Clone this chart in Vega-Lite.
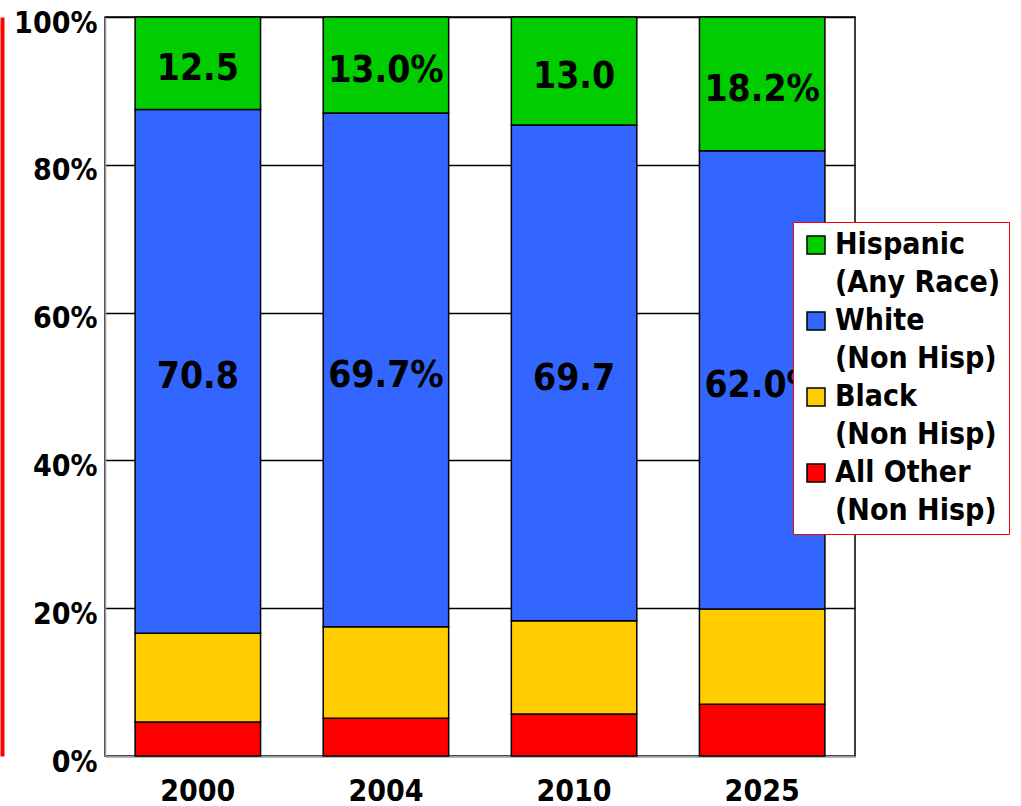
{
  "$schema": "https://vega.github.io/schema/vega-lite/v6.json",
  "autosize": {"type": "none"},
  "padding": {"left": 105, "top": 17, "right": 166, "bottom": 50},
  "width": 750,
  "height": 739,
  "background": "white",
  "config": {
    "view": {"stroke": "black", "strokeWidth": 1.5},
    "font": "DejaVu Sans Condensed",
    "style": {"guide-label": {"lineHeight": 38}}
  },
  "data": {
    "values": [
      {"year": "2000", "group": "All Other|(Non Hisp)", "order": 1, "value": 4.6, "label": ""},
      {"year": "2000", "group": "Black|(Non Hisp)", "order": 2, "value": 12.0, "label": ""},
      {"year": "2000", "group": "White|(Non Hisp)", "order": 3, "value": 70.9, "label": "70.8"},
      {"year": "2000", "group": "Hispanic|(Any Race)", "order": 4, "value": 12.5, "label": "12.5"},
      {"year": "2004", "group": "All Other|(Non Hisp)", "order": 1, "value": 5.1, "label": ""},
      {"year": "2004", "group": "Black|(Non Hisp)", "order": 2, "value": 12.4, "label": ""},
      {"year": "2004", "group": "White|(Non Hisp)", "order": 3, "value": 69.5, "label": "69.7%"},
      {"year": "2004", "group": "Hispanic|(Any Race)", "order": 4, "value": 13.0, "label": "13.0%"},
      {"year": "2010", "group": "All Other|(Non Hisp)", "order": 1, "value": 5.7, "label": ""},
      {"year": "2010", "group": "Black|(Non Hisp)", "order": 2, "value": 12.6, "label": ""},
      {"year": "2010", "group": "White|(Non Hisp)", "order": 3, "value": 67.1, "label": "69.7"},
      {"year": "2010", "group": "Hispanic|(Any Race)", "order": 4, "value": 14.6, "label": "13.0"},
      {"year": "2025", "group": "All Other|(Non Hisp)", "order": 1, "value": 7.0, "label": ""},
      {"year": "2025", "group": "Black|(Non Hisp)", "order": 2, "value": 12.9, "label": ""},
      {"year": "2025", "group": "White|(Non Hisp)", "order": 3, "value": 62.0, "label": "62.0%"},
      {"year": "2025", "group": "Hispanic|(Any Race)", "order": 4, "value": 18.1, "label": "18.2%"}
    ]
  },
  "transform": [
    {"stack": "value", "groupby": ["year"], "sort": [{"field": "order", "order": "ascending"}], "as": ["v0", "v1"]},
    {"calculate": "(datum.v0 + datum.v1) / 2", "as": "mid"}
  ],
  "encoding": {
    "x": {
      "field": "year", "type": "nominal", "title": null,
      "scale": {"paddingInner": 0.333, "paddingOuter": 0.16},
      "axis": {
        "labelAngle": 0, "labelFontSize": 30, "labelFontWeight": "bold", "labelColor": "black",
        "labelFont": "DejaVu Sans Condensed", "labelPadding": 20,
        "ticks": false, "domainColor": "#999999", "domainWidth": 1.5
      }
    }
  },
  "layer": [
    {
      "mark": {"type": "bar", "stroke": "black", "strokeWidth": 1.5, "opacity": 1},
      "encoding": {
        "y": {
          "field": "v0", "type": "quantitative", "title": null,
          "scale": {"domain": [0, 100], "nice": false},
          "axis": {
            "values": [0, 20, 40, 60, 80, 100],
            "labelExpr": "datum.value + '%'",
            "labelFontSize": 30, "labelFontWeight": "bold", "labelColor": "black",
            "labelFont": "DejaVu Sans Condensed", "labelPadding": 8, "labelOffset": 6,
            "ticks": false, "domainColor": "#999999", "domainWidth": 1.5,
            "grid": true, "gridColor": "black", "gridWidth": 1.5, "gridOpacity": 1
          }
        },
        "y2": {"field": "v1"},
        "color": {
          "field": "group", "type": "nominal",
          "scale": {
            "domain": ["Hispanic|(Any Race)", "White|(Non Hisp)", "Black|(Non Hisp)", "All Other|(Non Hisp)"],
            "range": ["#00CC00", "#3366FF", "#FFCC00", "#FF0000"]
          },
          "legend": {
            "orient": "none", "legendX": 688, "legendY": 205,
            "title": null,
            "fillColor": "white", "strokeColor": "#FF0000",
            "padding": 8,
            "symbolType": "square", "symbolSize": 324, "symbolStrokeColor": "black", "symbolStrokeWidth": 1.5,
            "symbolOpacity": 1,
            "labelFont": "DejaVu Sans Condensed", "labelFontSize": 30, "labelFontWeight": "bold", "labelColor": "black",
            "labelOffset": 4, "labelLimit": 400, "rowPadding": 8,
            "labelExpr": "split(datum.label, '|')",
            "encoding": {
              "legend": {"update": {"strokeWidth": {"value": 2}}},
              "labels": {"update": {"lineHeight": {"value": 38}}}
            }
          }
        }
      }
    },
    {
      "mark": {"type": "text", "fontSize": 37, "fontWeight": "bold", "color": "black", "font": "DejaVu Sans Condensed", "dy": 6},
      "encoding": {
        "y": {
          "field": "mid", "type": "quantitative",
          "axis": {
            "orient": "left", "title": null, "labels": false, "ticks": false, "grid": false,
            "domainColor": "#FF0000", "domainWidth": 4, "offset": 103
          }
        },
        "text": {"field": "label"}
      }
    }
  ],
  "resolve": {"axis": {"y": "independent"}}
}
